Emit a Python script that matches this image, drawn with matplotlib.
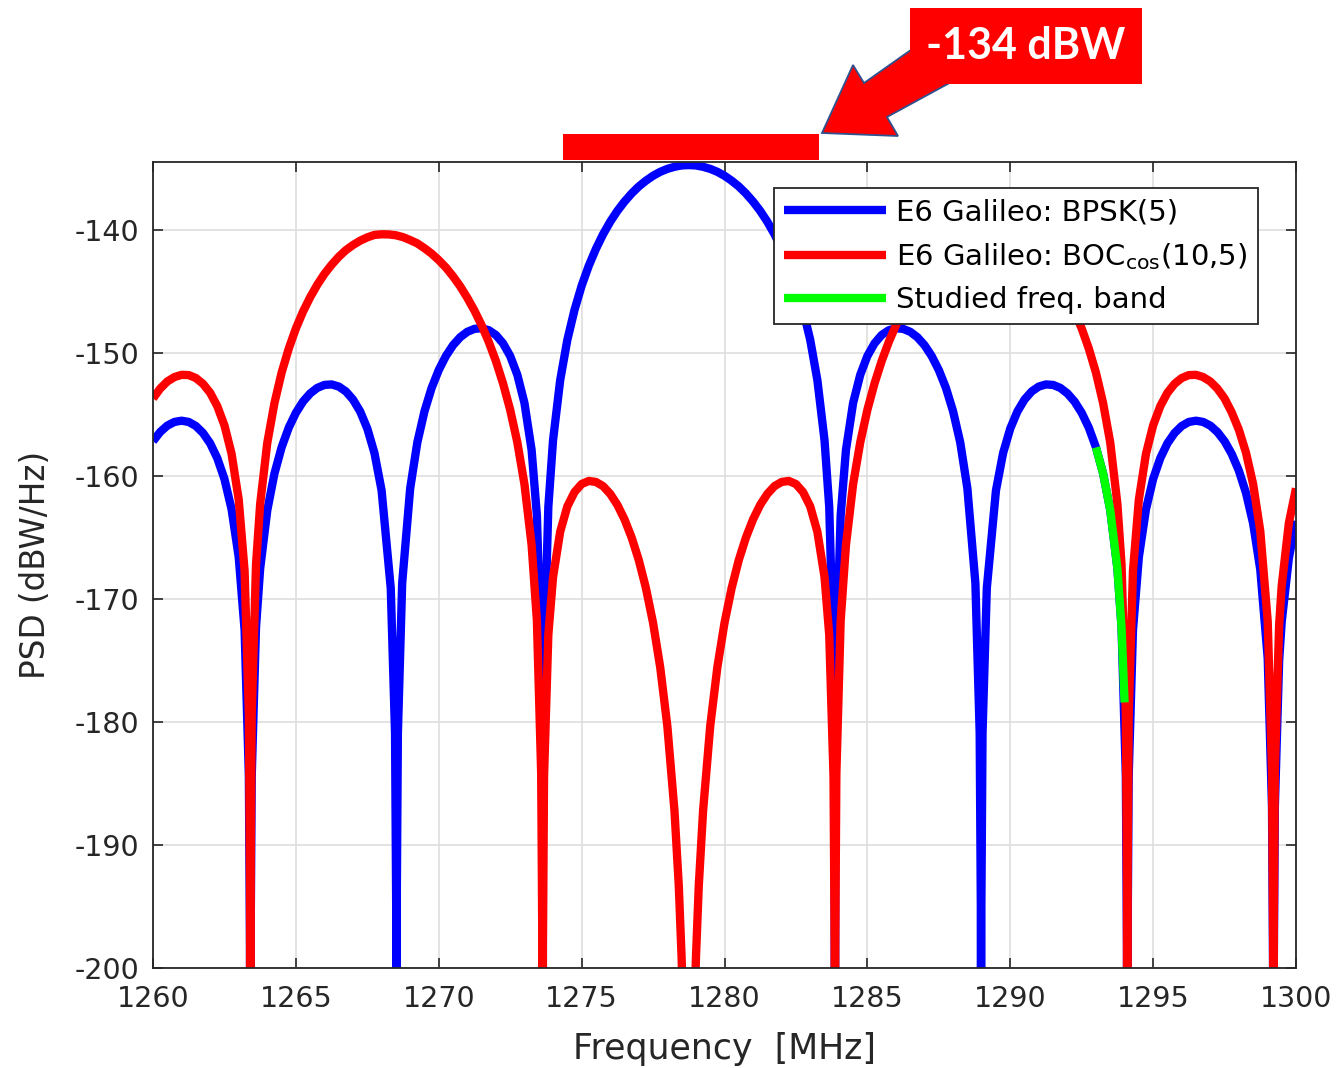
import matplotlib
matplotlib.use('Agg')
import matplotlib.pyplot as plt
import matplotlib.patches as patches

plt.rcParams['axes.unicode_minus'] = False

# E6 Galileo BPSK(5) PSD (dBW/Hz); -260 marks a null below the axis
bpsk_freq = [1260.0, 1260.25, 1260.5, 1260.75, 1261.0, 1261.25, 1261.5, 1261.75, 1262.0,
             1262.25, 1262.5, 1262.75, 1263.0,
             1263.205, 1263.355, 1263.395, 1263.405, 1263.415, 1263.455, 1263.605,
             1263.75, 1264.0, 1264.25, 1264.5, 1264.75, 1265.0, 1265.25, 1265.5, 1265.75,
             1266.0, 1266.25, 1266.5, 1266.75, 1267.0, 1267.25, 1267.5, 1267.75, 1268.0,
             1268.32, 1268.47, 1268.51, 1268.52, 1268.53, 1268.57, 1268.72,
             1269.0, 1269.25, 1269.5, 1269.75, 1270.0, 1270.25, 1270.5, 1270.75, 1271.0,
             1271.25, 1271.5, 1271.75, 1272.0, 1272.25, 1272.5, 1272.75, 1273.0, 1273.25,
             1273.435, 1273.585, 1273.625, 1273.635, 1273.645, 1273.685, 1273.835,
             1274.0, 1274.25, 1274.5, 1274.75, 1275.0, 1275.25, 1275.5, 1275.75, 1276.0,
             1276.25, 1276.5, 1276.75, 1277.0, 1277.25, 1277.5, 1277.75, 1278.0, 1278.25,
             1278.5, 1278.75, 1279.0, 1279.25, 1279.5, 1279.75, 1280.0, 1280.25, 1280.5,
             1280.75, 1281.0, 1281.25, 1281.5, 1281.75, 1282.0, 1282.25, 1282.5, 1282.75,
             1283.0, 1283.25, 1283.5,
             1283.665, 1283.815, 1283.855, 1283.865, 1283.875, 1283.915, 1284.065,
             1284.25, 1284.5, 1284.75, 1285.0, 1285.25, 1285.5, 1285.75, 1286.0, 1286.25,
             1286.5, 1286.75, 1287.0, 1287.25, 1287.5, 1287.75, 1288.0, 1288.25, 1288.5,
             1288.78, 1288.93, 1288.97, 1288.98, 1288.99, 1289.03, 1289.18,
             1289.5, 1289.75, 1290.0, 1290.25, 1290.5, 1290.75, 1291.0, 1291.25, 1291.5,
             1291.75, 1292.0, 1292.25, 1292.5, 1292.75, 1293.0, 1293.25, 1293.5, 1293.75,
             1293.895, 1294.045, 1294.085, 1294.095, 1294.105, 1294.145, 1294.295,
             1294.5, 1294.75, 1295.0, 1295.25, 1295.5, 1295.75, 1296.0, 1296.25, 1296.5,
             1296.75, 1297.0, 1297.25, 1297.5, 1297.75, 1298.0, 1298.25, 1298.5, 1298.75,
             1299.01, 1299.16, 1299.20, 1299.21, 1299.22, 1299.26, 1299.41,
             1299.5, 1299.75, 1300.0]
bpsk_psd = [-157.16, -156.41, -155.89, -155.59, -155.49, -155.59, -155.92, -156.49, -157.33,
            -158.54, -160.23, -162.69, -166.59,
            -172.5, -184.4, -198.4, -260, -198.4, -184.4, -172.3,
            -167.52, -162.77, -159.79, -157.66, -156.06, -154.85, -153.93, -153.27, -152.82,
            -152.58, -152.54, -152.71, -153.11, -153.77, -154.74, -156.13, -158.12, -161.16,
            -169.1, -180.9, -194.9, -260, -194.9, -180.9, -168.7,
            -161.00, -157.26, -154.73, -152.83, -151.37, -150.23, -149.35, -148.70, -148.26,
            -148.02, -147.97, -148.13, -148.52, -149.20, -150.23, -151.76, -154.06, -157.88,
            -163.2, -174.9, -188.9, -260, -188.9, -174.9, -162.5,
            -157.07, -152.19, -148.92, -146.49, -144.52, -142.89, -141.52, -140.33, -139.31,
            -138.43, -137.67, -137.01, -136.44, -135.97, -135.57, -135.25, -135.01, -134.84,
            -134.73, -134.70, -134.73, -134.84, -135.01, -135.25, -135.57, -135.97, -136.44,
            -137.01, -137.67, -138.43, -139.31, -140.33, -141.52, -142.89, -144.52, -146.49,
            -148.92, -152.19, -157.07,
            -162.5, -174.9, -188.9, -260, -188.9, -174.9, -163.2,
            -157.88, -154.06, -151.76, -150.23, -149.20, -148.52, -148.13, -147.97, -148.02,
            -148.26, -148.70, -149.35, -150.23, -151.37, -152.83, -154.73, -157.26, -161.00,
            -168.7, -180.9, -194.9, -260, -194.9, -180.9, -169.1,
            -161.16, -158.12, -156.13, -154.74, -153.77, -153.11, -152.71, -152.54, -152.58,
            -152.82, -153.27, -153.93, -154.85, -156.06, -157.66, -159.79, -162.77, -167.52,
            -172.3, -184.4, -198.4, -260, -198.4, -184.4, -172.5,
            -166.59, -162.69, -160.23, -158.54, -157.33, -156.49, -155.92, -155.59, -155.49,
            -155.59, -155.89, -156.41, -157.16, -158.19, -159.55, -161.36, -163.85, -167.60,
            -174.8, -186.9, -200.9, -260, -200.9, -186.9, -175.0,
            -171.84, -166.66, -163.64]

# E6 Galileo BOCcos(10,5) PSD
boc_freq = [1260.0, 1260.25, 1260.5, 1260.75, 1261.0, 1261.25, 1261.5, 1261.75, 1262.0,
            1262.25, 1262.5, 1262.75, 1263.0,
            1263.205, 1263.355, 1263.395, 1263.405, 1263.415, 1263.455, 1263.605,
            1263.75, 1264.0, 1264.25, 1264.5, 1264.75, 1265.0, 1265.25, 1265.5, 1265.75,
            1266.0, 1266.25, 1266.5, 1266.75, 1267.0, 1267.25, 1267.5, 1267.75, 1268.0,
            1268.25, 1268.5, 1268.75, 1269.0, 1269.25, 1269.5, 1269.75, 1270.0, 1270.25,
            1270.5, 1270.75, 1271.0, 1271.25, 1271.5, 1271.75, 1272.0, 1272.25, 1272.5,
            1272.75, 1273.0, 1273.25,
            1273.435, 1273.585, 1273.625, 1273.635, 1273.645, 1273.685, 1273.835,
            1274.0, 1274.25, 1274.5, 1274.75, 1275.0, 1275.25, 1275.5, 1275.75, 1276.0,
            1276.25, 1276.5, 1276.75, 1277.0, 1277.25, 1277.5, 1277.75, 1278.0, 1278.25,
            1278.4, 1278.5, 1278.6, 1278.75, 1278.9, 1279.0, 1279.1,
            1279.25, 1279.5, 1279.75, 1280.0, 1280.25, 1280.5, 1280.75, 1281.0, 1281.25,
            1281.5, 1281.75, 1282.0, 1282.25, 1282.5, 1282.75, 1283.0, 1283.25, 1283.5,
            1283.665, 1283.815, 1283.855, 1283.865, 1283.875, 1283.915, 1284.065,
            1284.25, 1284.5, 1284.75, 1285.0, 1285.25, 1285.5, 1285.75, 1286.0, 1286.25,
            1286.5, 1286.75, 1287.0, 1287.25, 1287.5, 1287.75, 1288.0, 1288.25, 1288.5,
            1288.75, 1289.0, 1289.25, 1289.5, 1289.75, 1290.0, 1290.25, 1290.5, 1290.75,
            1291.0, 1291.25, 1291.5, 1291.75, 1292.0, 1292.25, 1292.5, 1292.75, 1293.0,
            1293.25, 1293.5, 1293.75,
            1293.895, 1294.045, 1294.085, 1294.095, 1294.105, 1294.145, 1294.295,
            1294.5, 1294.75, 1295.0, 1295.25, 1295.5, 1295.75, 1296.0, 1296.25, 1296.5,
            1296.75, 1297.0, 1297.25, 1297.5, 1297.75, 1298.0, 1298.25, 1298.5, 1298.75,
            1299.01, 1299.16, 1299.20, 1299.21, 1299.22, 1299.26, 1299.41,
            1299.5, 1299.75, 1300.0]
boc_psd = [-153.68, -152.88, -152.30, -151.94, -151.76, -151.78, -152.02, -152.49, -153.22,
           -154.31, -155.87, -158.18, -161.92,
           -167.7, -179.4, -193.4, -260, -193.4, -179.4, -167.2,
           -162.27, -157.28, -154.06, -151.59, -149.63, -147.99, -146.62, -145.45, -144.43,
           -143.55, -142.81, -142.16, -141.62, -141.20, -140.85, -140.58, -140.38, -140.33,
           -140.34, -140.41, -140.56, -140.80, -141.07, -141.46, -141.90, -142.43, -143.03,
           -143.75, -144.56, -145.50, -146.54, -147.73, -149.08, -150.64, -152.46, -154.61,
           -157.25, -160.67, -165.60,
           -171.75, -184.2, -198.3, -260, -198.3, -184.4, -172.9,
           -168.20, -164.52, -162.46, -161.30, -160.64, -160.39, -160.47, -160.81, -161.44,
           -162.33, -163.51, -164.99, -166.82, -169.10, -171.93, -175.54, -180.33, -187.23,
           -193.3, -199.2, -208.0, -260, -208.0, -199.2, -193.3,
           -187.23, -180.33, -175.54, -171.93, -169.10, -166.82, -164.99, -163.51, -162.33,
           -161.44, -160.81, -160.47, -160.39, -160.64, -161.30, -162.46, -164.52, -168.20,
           -172.9, -184.4, -198.3, -260, -198.3, -184.2, -171.75,
           -165.60, -160.67, -157.25, -154.61, -152.46, -150.64, -149.08, -147.73, -146.54,
           -145.50, -144.56, -143.75, -143.03, -142.43, -141.90, -141.46, -141.07, -140.80,
           -140.56, -140.41, -140.34, -140.33, -140.38, -140.58, -140.85, -141.20, -141.62,
           -142.16, -142.81, -143.55, -144.43, -145.45, -146.62, -147.99, -149.63, -151.59,
           -154.06, -157.28, -162.27,
           -167.2, -179.4, -193.4, -260, -193.4, -179.4, -167.7,
           -161.92, -158.18, -155.87, -154.31, -153.22, -152.49, -152.02, -151.78, -151.76,
           -151.94, -152.30, -152.88, -153.68, -154.81, -156.22, -158.09, -160.65, -164.47,
           -171.8, -183.9, -197.9, -260, -197.9, -183.9, -172.1,
           -168.91, -163.82, -160.99]

# studied frequency band (on the BPSK curve)
band_freq = [1293.0, 1293.25, 1293.5, 1293.75, 1293.895, 1294.0]
band_psd = [-157.66, -159.79, -162.77, -167.52, -172.3, -178.4]

labels = ['E6 Galileo: BPSK(5)', r'E6 Galileo: BOC$_{\mathrm{cos}}$(10,5)', 'Studied freq. band']
xticks = [1260, 1265, 1270, 1275, 1280, 1285, 1290, 1295, 1300]
yticks = [-200, -190, -180, -170, -160, -150, -140]
power_text = '-134 dBW'

W, H = 1338, 1068
fig = plt.figure(figsize=(W / 100, H / 100), dpi=100)
ax = fig.add_axes([153 / W, 1 - 968 / H, (1296 - 153) / W, (968 - 162) / H])

ax.plot(bpsk_freq, bpsk_psd, color='#0000ff', lw=6, solid_capstyle='butt', label=labels[0])
ax.plot(boc_freq, boc_psd, color='#ff0000', lw=6, solid_capstyle='butt', label=labels[1])
ax.plot(band_freq, band_psd, color='#00ff00', lw=6, solid_capstyle='butt', label=labels[2])

ax.set_xlim(1260, 1300)
ax.set_ylim(-200, -134.45)
ax.set_xticks(xticks)
ax.set_yticks(yticks)
ax.grid(True, color='#dedede', lw=1.2)
ax.set_axisbelow(True)
ax.tick_params(direction='in', length=7, width=1.2, top=True, right=True,
               labelsize=20.5, colors='#262626')
ax.tick_params(axis='x', pad=12)
ax.tick_params(axis='y', pad=10)
for s in ax.spines.values():
    s.set_color('#262626')
    s.set_linewidth(1.3)

ax.set_xlabel('Frequency  [MHz]', fontsize=25, color='#262626', labelpad=14)
ax.set_ylabel('PSD (dBW/Hz)', fontsize=23.5, color='#262626', labelpad=16)

leg = ax.legend(loc='upper left', bbox_to_anchor=(0.5433, 0.9677), borderaxespad=0,
                fontsize=21, fancybox=False, framealpha=1, edgecolor='#262626',
                handlelength=3.5, handletextpad=0.35, labelspacing=0.5, borderpad=0.35)
leg.get_frame().set_linewidth(1.3)


def fp(x, y):
    # image pixel -> figure fraction
    return (x / W, 1 - y / H)


# red bar marking the -134 dBW level
bar = patches.Polygon([fp(563, 134), fp(819, 134), fp(819, 160), fp(563, 160)],
                      closed=True, transform=fig.transFigure, facecolor='#ff0000',
                      edgecolor='none', zorder=5)
fig.add_artist(bar)

# block arrow
arrow = patches.Polygon([fp(822, 133), fp(853, 65), fp(864, 83), fp(925, 40),
                         fp(955, 80), fp(887, 117), fp(898, 136)],
                        closed=True, transform=fig.transFigure, facecolor='#ff0000',
                        edgecolor='#2f528f', lw=1.3, zorder=5)
fig.add_artist(arrow)

box = patches.Polygon([fp(910, 8), fp(1142, 8), fp(1142, 84), fp(910, 84)],
                      closed=True, transform=fig.transFigure, facecolor='#ff0000',
                      edgecolor='none', zorder=6)
fig.add_artist(box)
fig.text(*fp(1026, 46), power_text, ha='center', va='center', color='white',
         fontsize=31, fontweight='bold', family=['Lato', 'DejaVu Sans'], zorder=7)

fig.savefig('out.png', dpi=100, facecolor='white')
